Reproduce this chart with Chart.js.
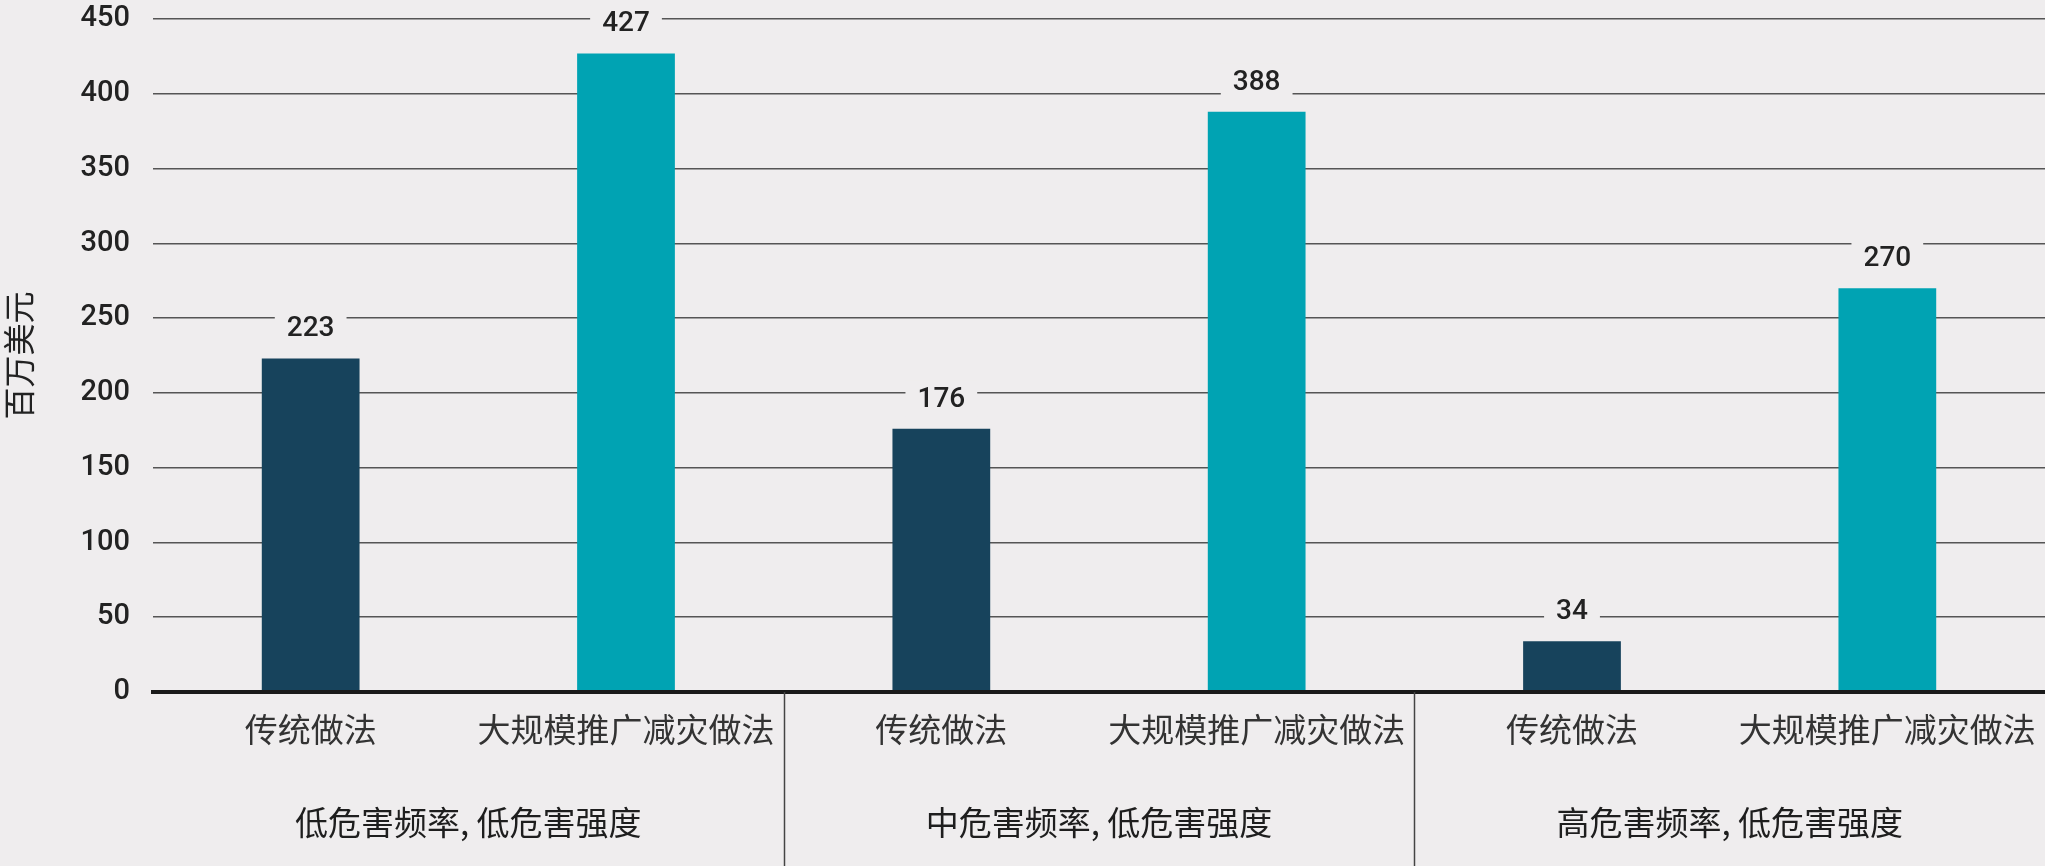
<!DOCTYPE html>
<html>
<head>
<meta charset="utf-8">
<script src="https://cdn.jsdelivr.net/npm/chart.js@4"></script>
<style>
  html, body { margin: 0; padding: 0; background: #efedee; }
  #wrap { width: 2045px; height: 866px; }
</style>
</head>
<body>
<div id="wrap"><canvas id="myChart" width="2045" height="866"></canvas></div>
<script>
// data
const categories = ["传统做法", "大规模推广减灾做法", "传统做法", "大规模推广减灾做法", "传统做法", "大规模推广减灾做法"];
const values = [223, 427, 176, 388, 34, 270];
const groups = ["低危害频率, 低危害强度", "中危害频率, 低危害强度", "高危害频率, 低危害强度"];
const yTitle = "百万美元";
const yMin = 0, yMax = 450, yStep = 50;

const BG = "#efedee";
const DARK = "#17435c";
const TEAL = "#00a3b3";
const CJK = "'Noto Sans CJK SC', sans-serif";
const NUM = "Roboto, sans-serif";

// labels over the bars, with a background box that cuts the grid line
const valueLabels = {
  id: "valueLabels",
  afterDatasetsDraw(chart) {
    const ctx = chart.ctx;
    const meta = chart.getDatasetMeta(0);
    ctx.save();
    ctx.font = "500 28px " + NUM;
    ctx.textAlign = "center";
    ctx.textBaseline = "middle";
    meta.data.forEach((bar, i) => {
      const txt = String(values[i]);
      const w = ctx.measureText(txt).width + 24;
      const cy = bar.y - 30;
      ctx.fillStyle = BG;
      ctx.fillRect(bar.x - w / 2, cy - 18, w, 36);
      ctx.fillStyle = "#222";
      ctx.fillText(txt, bar.x, cy + 1);
    });
    ctx.restore();
  }
};

// group dividers and group captions under the axis
const groupLabels = {
  id: "groupLabels",
  afterDraw(chart) {
    const ctx = chart.ctx;
    const x = chart.scales.x;
    const bottom = chart.chartArea.bottom;
    const per = categories.length / groups.length;
    const half = (x.getPixelForValue(1) - x.getPixelForValue(0)) / 2;
    ctx.save();
    ctx.strokeStyle = "#444";
    ctx.lineWidth = 1.5;
    for (let g = 1; g < groups.length; g++) {
      const px = Math.round(x.getPixelForValue(g * per) - half) + 0.5;
      ctx.beginPath();
      ctx.moveTo(px, bottom);
      ctx.lineTo(px, chart.height);
      ctx.stroke();
    }
    ctx.font = "33px " + CJK;
    ctx.fillStyle = "#1e1e1e";
    ctx.textAlign = "center";
    ctx.textBaseline = "middle";
    groups.forEach((g, i) => {
      const a = x.getPixelForValue(i * per);
      const b = x.getPixelForValue(i * per + per - 1);
      ctx.fillText(g, (a + b) / 2, bottom + 130);
    });
    ctx.restore();
  }
};

new Chart(document.getElementById("myChart"), {
  type: "bar",
  data: {
    labels: categories,
    datasets: [{
      data: values,
      backgroundColor: values.map((v, i) => (i % 2 === 0 ? DARK : TEAL)),
      categoryPercentage: 1,
      barPercentage: 0.31
    }]
  },
  options: {
    responsive: false,
    devicePixelRatio: 1,
    animation: false,
    layout: { padding: { top: 19, right: 0, bottom: 0, left: 0 } },
    plugins: { legend: { display: false }, tooltip: { enabled: false } },
    scales: {
      x: {
        afterFit(scale) {
          scale.height = 174;
          scale.paddingLeft = 0;
          scale.paddingRight = 0;
          scale.paddingTop = 0;
          scale.paddingBottom = 0;
        },
        grid: { display: false },
        border: { display: true, color: "#1a1a1a", width: 4 },
        ticks: {
          color: "#333",
          font: { family: CJK, size: 33 },
          padding: 10,
          maxRotation: 0,
          autoSkip: false
        }
      },
      y: {
        min: yMin,
        max: yMax,
        afterFit(scale) {
          scale.width = 153;
          scale.paddingTop = 0;
          scale.paddingBottom = 0;
          scale.paddingLeft = 0;
          scale.paddingRight = 0;
        },
        border: { display: false },
        grid: {
          drawTicks: false,
          color: (c) => (c.tick && c.tick.value === 0 ? "#1a1a1a" : "#555"),
          lineWidth: (c) => (c.tick && c.tick.value === 0 ? 4 : 1.5)
        },
        ticks: {
          stepSize: yStep,
          color: "#222",
          padding: 23,
          font: { family: NUM, size: 29, weight: "500" }
        },
        title: {
          display: true,
          text: yTitle,
          color: "#222",
          font: { family: CJK, size: 32 },
          padding: { top: 0, bottom: 0 }
        }
      }
    }
  },
  plugins: [valueLabels, groupLabels]
});
</script>
</body>
</html>
